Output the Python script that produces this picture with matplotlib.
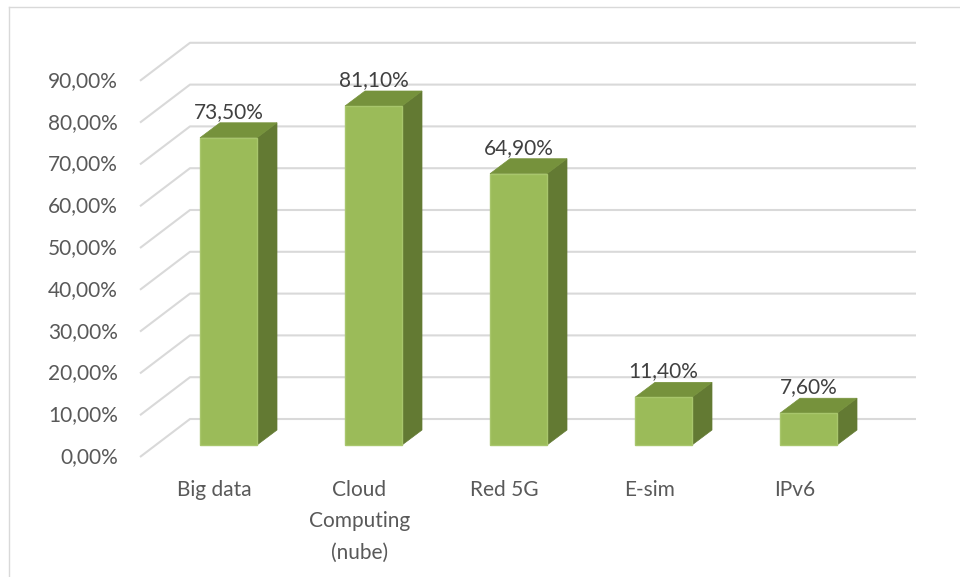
import matplotlib
matplotlib.use("Agg")
import matplotlib.pyplot as plt
from matplotlib.patches import Polygon, Rectangle
from matplotlib.lines import Line2D

# ---- data -------------------------------------------------------------
categories = ["Big data", "Cloud\nComputing\n(nube)", "Red 5G", "E-sim", "IPv6"]
values = [73.5, 81.1, 64.9, 11.4, 7.6]
value_labels = ["73,50%", "81,10%", "64,90%", "11,40%", "7,60%"]
ticks = [0, 10, 20, 30, 40, 50, 60, 70, 80, 90]
tick_labels = ["0,00%", "10,00%", "20,00%", "30,00%", "40,00%",
               "50,00%", "60,00%", "70,00%", "80,00%", "90,00%"]

# ---- style ------------------------------------------------------------
FRONT = "#9BBB59"
EDGE = "#A8C66C"
TOP = "#76923C"
SIDE = "#637A33"
GRID = "#D9D9D9"
TICK_TXT = "#595959"
LABEL_TXT = "#404040"
FONT = "Lato"
FS = 15

W, H = 960, 577
fig = plt.figure(figsize=(W / 100, H / 100), dpi=100)
ax = fig.add_axes([0, 0, 1, 1])

# layout in pixels: category spacing / zero line / pixels per percent
x0_px, step_px = 228.5, 145.0
zero_px, unit_px = 445.0, 4.18
ax.set_xlim((0 - x0_px) / step_px, (W - x0_px) / step_px)
ax.set_ylim((zero_px - H) / unit_px, zero_px / unit_px)
ax.axis("off")

def px_x(dx):
    return dx / step_px

def px_y(dy):
    return dy / unit_px

# 3D depth of a bar and of the floor / back wall
bar_w = px_x(57)
bdx, bdy = px_x(20), px_y(15)
front_x, front_dy = px_x(140 - x0_px), px_y(-12)
back_x, back_dy = px_x(190 - x0_px), px_y(26)
right_x = px_x(916 - x0_px)

# gridlines on the side wall + back wall
for t, lab in zip(ticks, tick_labels):
    ax.add_line(Line2D([front_x, back_x, right_x],
                       [t + front_dy, t + back_dy, t + back_dy],
                       color=GRID, lw=1.5, zorder=1, solid_capstyle="butt"))
    ax.text(front_x - px_x(22), t + front_dy, lab, ha="right", va="center",
            color=TICK_TXT, fontsize=FS, family=FONT)

# bars
for i, (v, vl) in enumerate(zip(values, value_labels)):
    l, r = i - bar_w / 2, i + bar_w / 2
    ax.add_patch(Polygon([(r, 0), (r + bdx, bdy), (r + bdx, v + bdy), (r, v)],
                         closed=True, facecolor=SIDE, edgecolor=SIDE, lw=0.5, zorder=3))
    ax.add_patch(Polygon([(l, v), (r, v), (r + bdx, v + bdy), (l + bdx, v + bdy)],
                         closed=True, facecolor=TOP, edgecolor=TOP, lw=0.5, zorder=3))
    ax.add_patch(Rectangle((l, 0), bar_w, v, facecolor=FRONT, edgecolor=EDGE,
                           lw=1.0, zorder=4))
    ax.text(i, v + bdy + px_y(1), vl, ha="center", va="bottom",
            color=LABEL_TXT, fontsize=FS, family=FONT, zorder=5)

# category labels
for i, c in enumerate(categories):
    ax.text(i - px_x(14), px_y(-35), c, ha="center", va="top", color=TICK_TXT,
            fontsize=FS, family=FONT, linespacing=1.7)

# chart-area border
fig.add_artist(Line2D([8.5 / W, 8.5 / W], [0, 1 - 6.5 / H], transform=fig.transFigure,
                      color=GRID, lw=1.0))
fig.add_artist(Line2D([8.5 / W, 1], [1 - 6.5 / H, 1 - 6.5 / H], transform=fig.transFigure,
                      color=GRID, lw=1.0))

fig.savefig("out.png", dpi=100, facecolor="white")
